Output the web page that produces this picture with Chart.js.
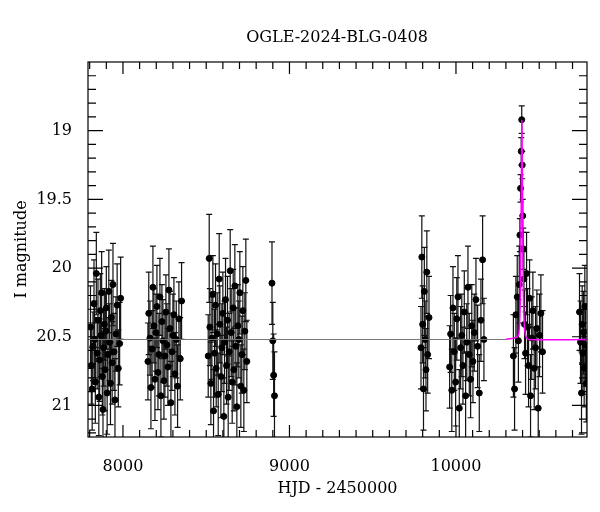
<!DOCTYPE html>
<html><head><meta charset="utf-8">
<script src="https://cdn.jsdelivr.net/npm/chart.js@4"></script>
<style>body{margin:0;background:#fff}#w{width:600px;height:512px}</style>
</head><body><div id="w"><canvas id="c"></canvas></div>
<script>
const hjd = [7805,7810,7815,7820,7826,7830,7834,7840,7845,7850,7855,7860,7864,7868,7872,7876,7880,7884,7888,7892,7896,7900,7905,7910,7915,7920,7925,7930,7935,7940,7946,7952,7958,7965,7972,7980,7986,
8150,8155,8162,8168,8175,8180,8186,8192,8198,8204,8210,8216,8222,8228,8234,8240,8246,8252,8258,8264,8270,8276,8282,8288,8294,8300,8306,8312,8320,8328,8336,8344,8352,
8512,8518,8522,8528,8534,8540,8544,8550,8556,8560,8566,8572,8578,8582,8588,8594,8600,8606,8610,8616,8622,8628,8632,8638,8644,8650,8656,8662,8666,8672,8678,8684,8690,8696,8702,8708,8714,8720,8726,8732,8738,8744,
8895,8900,8905,8910,
9790,9795,9800,9805,9810,9815,9820,9825,9830,9838,
9962,9968,9975,9982,9990,9998,10005,10012,10020,10028,10035,10042,10050,10058,10065,10072,10080,10088,10095,10102,10110,10120,10130,10140,10150,10160,10168,
10345,10352,10360,10368,10375,10380,10384,10388,10392,10395,10398,10401,10404,10408,10412,10418,10424,10430,10436,10442,10448,10455,10462,10470,10478,10486,10494,10502,10510,10520,
10742,10748,10754,10758,10762,10766,10770,10774,10778,10783];
const imag = [20.43,20.71,20.88,20.57,20.26,20.52,20.83,20.04,20.62,20.38,20.94,20.67,20.31,20.49,20.18,20.79,21.03,20.58,20.41,20.74,20.46,20.29,20.91,20.63,20.17,20.54,20.84,20.36,20.69,20.12,20.61,20.96,20.48,20.27,20.73,20.55,20.22,
20.68,20.33,20.51,20.87,20.59,20.14,20.42,20.81,20.47,20.28,20.76,20.63,20.21,20.93,20.39,20.53,20.82,20.64,20.32,20.56,20.72,20.16,20.44,20.98,20.61,20.49,20.34,20.77,20.52,20.86,20.37,20.66,20.24,
20.64,19.93,20.43,20.84,20.51,20.19,21.04,20.62,20.27,20.73,20.48,20.92,20.08,20.41,20.79,20.58,20.33,21.08,20.54,20.23,20.71,20.38,20.94,20.61,20.02,20.47,20.83,20.29,20.74,20.13,20.57,21.01,20.42,20.52,20.18,20.86,20.63,20.31,20.89,20.46,20.09,20.68,
20.11,20.53,20.78,20.93,
20.58,19.92,20.41,20.88,20.17,20.52,20.74,20.03,20.63,20.36,
20.72,20.48,20.89,20.29,20.61,20.83,20.37,20.21,21.02,20.58,20.49,20.71,20.32,20.93,20.54,20.14,20.63,20.81,20.42,20.68,20.47,20.23,20.57,20.91,20.38,19.94,20.52,
20.64,20.88,20.34,20.21,20.53,20.12,19.76,19.42,19.15,18.92,19.25,19.62,19.86,20.08,20.41,20.62,20.04,20.43,20.71,20.22,20.93,20.51,20.31,20.73,20.58,20.44,21.02,20.49,20.33,20.61,
20.32,20.54,20.91,20.41,20.62,20.47,20.73,20.28,20.56,20.84];
const ierr = [0.3,0.28,0.3,0.25,0.32,0.28,0.3,0.3,0.26,0.3,0.28,0.3,0.27,0.3,0.3,0.28,0.3,0.28,0.26,0.3,0.28,0.3,0.3,0.27,0.3,0.28,0.3,0.27,0.3,0.3,0.28,0.3,0.27,0.3,0.28,0.3,0.3,
0.28,0.3,0.27,0.3,0.28,0.3,0.27,0.3,0.28,0.3,0.27,0.3,0.28,0.3,0.27,0.3,0.28,0.3,0.27,0.3,0.28,0.3,0.27,0.3,0.28,0.3,0.27,0.3,0.28,0.3,0.27,0.3,0.28,
0.3,0.32,0.28,0.3,0.3,0.28,0.3,0.32,0.3,0.28,0.3,0.3,0.33,0.28,0.3,0.32,0.3,0.28,0.3,0.3,0.28,0.32,0.3,0.28,0.3,0.32,0.3,0.28,0.3,0.3,0.28,0.32,0.3,0.28,0.3,0.3,0.28,0.32,0.3,0.28,0.3,0.3,
0.3,0.28,0.3,0.32,
0.3,0.3,0.28,0.3,0.32,0.28,0.3,0.3,0.28,0.3,
0.3,0.28,0.3,0.3,0.28,0.32,0.3,0.3,0.28,0.3,0.3,0.28,0.3,0.32,0.28,0.3,0.3,0.28,0.3,0.3,0.28,0.3,0.3,0.28,0.3,0.32,0.3,
0.3,0.3,0.28,0.3,0.3,0.28,0.12,0.1,0.1,0.1,0.1,0.12,0.15,0.2,0.25,0.3,0.3,0.28,0.3,0.28,0.3,0.3,0.28,0.3,0.3,0.28,0.3,0.3,0.28,0.3,
0.28,0.3,0.3,0.28,0.3,0.3,0.28,0.3,0.3,0.28];
const baseT = [7790,10300];
const baseM = [20.52,20.52];
const modelT = [10300,10370,10380,10385,10388,10391,10393,10395,10396,10397,10399,10401,10404,10407,10412,10420,10440,10787];
const modelM = [20.52,20.5,20.44,20.3,20.1,19.7,19.35,19.02,18.92,19.02,19.35,19.7,20.1,20.3,20.44,20.5,20.52,20.52];
const xTicks = [8000,9000,10000];
const yTicks = [19,19.5,20,20.5,21];

const serif = "'DejaVu Serif',serif";
const pts = hjd.map((x,i)=>({x, y: imag[i]}));
const errPlugin = {id:'err', beforeDatasetsDraw(ch){
  const {ctx, scales:{x,y}, chartArea:a} = ch;
  ctx.save(); ctx.beginPath(); ctx.rect(a.left,a.top,a.right-a.left,a.bottom-a.top); ctx.clip();
  ctx.strokeStyle='#111'; ctx.lineWidth=1.2;
  hjd.forEach((t,i)=>{const px=x.getPixelForValue(t), y1=y.getPixelForValue(imag[i]-ierr[i]), y2=y.getPixelForValue(imag[i]+ierr[i]);
    ctx.beginPath(); ctx.moveTo(px,y1); ctx.lineTo(px,y2);
    ctx.moveTo(px-3,y1); ctx.lineTo(px+3,y1); ctx.moveTo(px-3,y2); ctx.lineTo(px+3,y2); ctx.stroke();});
  ctx.restore();
}, afterDraw(ch){
  const {ctx, scales:{x,y}, chartArea:a} = ch;
  ctx.save(); ctx.strokeStyle='#000'; ctx.lineWidth=1.2;
  ctx.strokeRect(a.left,a.top,a.right-a.left,a.bottom-a.top);
  ctx.beginPath();
  for(let v=7800; v<=10700; v+=100){const p=x.getPixelForValue(v); const L=v%1000===0?12:7;
    ctx.moveTo(p,a.bottom); ctx.lineTo(p,a.bottom-L); ctx.moveTo(p,a.top); ctx.lineTo(p,a.top+L);}
  for(let k=186; k<=212; k++){const v=k/10; const p=y.getPixelForValue(v); const L=(k%5===0)?15:8;
    ctx.moveTo(a.left,p); ctx.lineTo(a.left+L,p); ctx.moveTo(a.right,p); ctx.lineTo(a.right-L,p);}
  ctx.stroke();
  ctx.fillStyle='#000'; ctx.font="16px "+serif; ctx.textAlign='center';
  ctx.fillText('OGLE-2024-BLG-0408', 337, 42);
  ctx.restore();
}};
new Chart(document.getElementById('c'), {
  data:{datasets:[
    {type:'line', data: baseT.map((t,i)=>({x:t,y:baseM[i]})), borderColor:'#777', borderWidth:1, pointRadius:0},
    {type:'line', data: modelT.map((t,i)=>({x:t,y:modelM[i]})), borderColor:'#ff00ff', borderWidth:1.5, pointRadius:0, tension:0.3},
    {type:'scatter', data: pts, backgroundColor:'#000', borderColor:'#000', pointRadius:3}
  ]},
  options:{responsive:true, maintainAspectRatio:false, animation:false,
    layout:{padding:{top:62,right:13,left:0,bottom:0}},
    plugins:{legend:{display:false}, tooltip:{enabled:false}},
    scales:{
      x:{type:'linear', min:7790, max:10787, grid:{display:false}, border:{display:false},
        afterBuildTicks:s=>{s.ticks=xTicks.map(v=>({value:v}));},
        afterFit:s=>{s.height=75;},
        ticks:{color:'#000', font:{family:serif, size:16}, padding:12, maxRotation:0, callback:v=>String(v)},
        title:{display:true, text:'HJD - 2450000', color:'#000', font:{family:serif, size:16}, padding:{top:0,bottom:14}}},
      y:{type:'linear', reverse:true, min:18.5, max:21.23, grid:{display:false}, border:{display:false},
        afterBuildTicks:s=>{s.ticks=yTicks.map(v=>({value:v}));},
        afterFit:s=>{s.width=88;},
        ticks:{color:'#000', font:{family:serif, size:16}, padding:8, callback:v=>String(v)},
        title:{display:true, text:'I magnitude', color:'#000', font:{family:serif, size:16}, padding:{top:12,bottom:2}}}
    }},
  plugins:[errPlugin]
});
</script></body></html>
